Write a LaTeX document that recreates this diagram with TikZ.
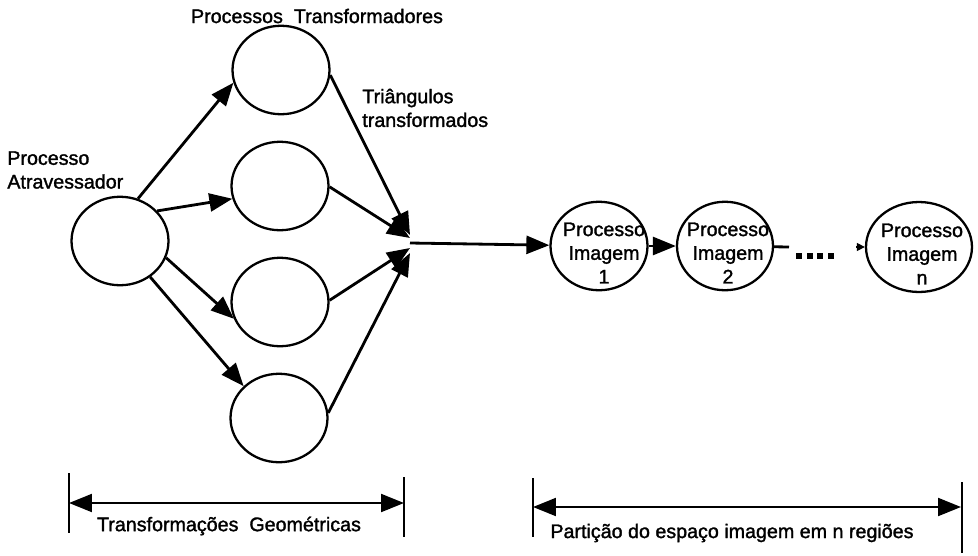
\documentclass[tikz,border=0pt]{standalone}
\usepackage{fontspec}
\setmainfont{Liberation Sans}[FakeBold=1.5]
\usepackage{tikz}
\usetikzlibrary{arrows.meta,shapes.geometric}

\begin{document}
\begin{tikzpicture}[line join=round,>={Triangle[length=0.46cm,width=0.36cm]},x=0.02cm,y=-0.02cm,
  proz/.style={draw,ellipse,line width=1.3pt,inner sep=0pt,minimum width=1.94cm,minimum height=1.77cm},
  pfeil/.style={->,line width=1.6pt},
  klammer/.style={line width=1.2pt},
  every node/.style={font=\fontsize{11.2}{13.5}\selectfont}]
     \useasboundingbox (0,0) rectangle (978,555);

     \node[proz] (atrav) at (120,241) {}; % Prozess links
     \node[proz] (trans1) at (281,70) {};
     \node[proz] (trans2) at (280,186) {};
     \node[proz] (trans3) at (280,302) {};
     \node[proz] (trans4) at (279,418) {};
     \node[proz] (img1) at (599,246) {};
     \node[proz,minimum width=1.92cm] (img2) at (725,246) {};
     \node[proz,minimum width=2.12cm,minimum height=1.8cm] (imgn) at (919,247) {};
     \coordinate (konv) at (410,243); % Sammelpunkt
     \coordinate (stub) at (789,247);
     \coordinate (pfn) at (856,247);

     % Texte
     \node[inner sep=0pt] (lbltrans) at (317,16) {Processos~~Transformadores};
     \node[anchor=west,align=left,inner sep=0pt] (lbltri) at (362,108) {Triângulos\\transformados};
     \node[anchor=west,align=left,inner sep=0pt] (lblatrav) at (7,170) {Processo\\Atravessador};
     \node[align=center,inner sep=0pt] (txt1) at ([xshift=0.1cm,yshift=-0.14cm]img1) {Processo\\Imagem\\1};
     \node[align=center,inner sep=0pt] (txt2) at ([xshift=0.06cm,yshift=-0.14cm]img2) {Processo\\Imagem\\2};
     \node[align=center,inner sep=0pt] (txtn) at ([xshift=0.06cm,yshift=-0.14cm]imgn) {Processo\\Imagem\\n};

     % Pfeile
     \draw[pfeil] (atrav.67) -- (trans1.195);
     \draw[pfeil] (atrav.39) -- (trans2.195);
     \draw[pfeil] (atrav.-20) -- (trans3.200);
     \draw[pfeil] (atrav.-50) -- (trans4.138);
     \draw[pfeil] (trans1.-6) -- ([yshift=0.16cm]konv);
     \draw[pfeil] (trans2.-1) -- ([yshift=0.1cm]konv);
     \draw[pfeil] (trans3.2) -- ([yshift=-0.1cm]konv);
     \draw[pfeil] (trans4.6) -- ([yshift=-0.2cm]konv);
     \draw[pfeil] (konv) -- (img1);
     \draw[pfeil] (img1) -- (img2);
     \draw[line width=1.6pt] (img2) -- (stub);
     \foreach \i in {0,1,2,3}
     \fill (796+\i*10.5,253) rectangle ++(6,6); % Punkte
     \draw[->,>={Triangle[length=0.16cm,width=0.16cm]},line width=0.6pt] (pfn) -- (imgn);

     % Klammern unten
     \coordinate (gl) at (69,503);
     \coordinate (gr) at (404,503);
     \draw[klammer] (69,473) -- (69,533);
     \draw[klammer] (404,477) -- (404,537);
     \draw[klammer,<->] (gl) -- (gr);
     \node (lblgeo) at (229,526) {Transformações~~Geométricas};

     \coordinate (pl) at (533,507);
     \coordinate (pr) at (961,507);
     \draw[klammer] (533,478) -- (533,537);
     \draw[klammer] (962,482) -- (962,553);
     \draw[klammer,<->] (pl) -- (pr);
     \node (lblpart) at (732,533) {Partição do espaço imagem em n regiões};
\end{tikzpicture}
\end{document}
